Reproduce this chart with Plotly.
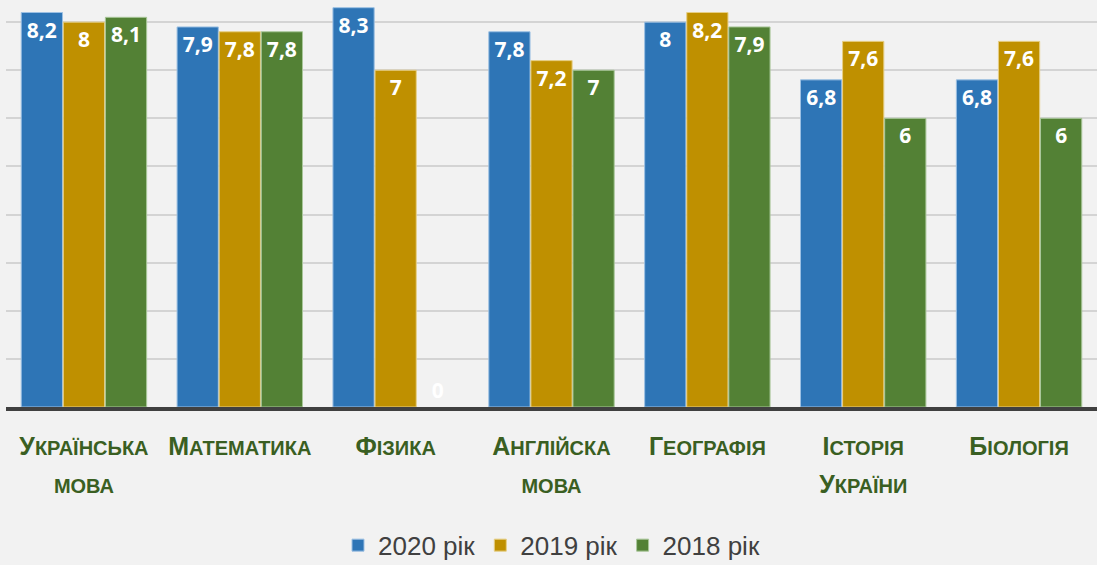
import plotly.graph_objects as go

subjects = [
    ("У", "КРАЇНСЬКА", "", "МОВА"),
    ("М", "АТЕМАТИКА", "", ""),
    ("Ф", "ІЗИКА", "", ""),
    ("А", "НГЛІЙСКА", "", "МОВА"),
    ("Г", "ЕОГРАФІЯ", "", ""),
    ("І", "СТОРІЯ", "У", "КРАЇНИ"),
    ("Б", "ІОЛОГІЯ", "", ""),
]
categories = ["Українська мова", "Математика", "Фізика", "Англійска мова",
              "Географія", "Історія України", "Біологія"]

scores_2020 = [8.2, 7.9, 8.3, 7.8, 8.0, 6.8, 6.8]
scores_2019 = [8.0, 7.8, 7.0, 7.2, 8.2, 7.6, 7.6]
scores_2018 = [8.1, 7.8, 0.0, 7.0, 7.9, 6.0, 6.0]

series = [
    ("2020 рік", scores_2020, "#2e75b6", "#9cc0e3"),
    ("2019 рік", scores_2019, "#bf9000", "#e6cf86"),
    ("2018 рік", scores_2018, "#538135", "#a9c79a"),
]

BIG = "font-size:25px"
SMALL = "font-size:20px"


def tick_label(first, rest, first2, rest2):
    txt = f"<span style='{BIG}'>{first}</span><span style='{SMALL}'>{rest}</span>"
    if rest2:
        txt += "<br>"
        if first2:
            txt += f"<span style='{BIG}'>{first2}</span>"
        txt += f"<span style='{SMALL}'>{rest2}</span>"
    return txt


fig = go.Figure()
for name, vals, color, edge in series:
    fig.add_trace(go.Bar(
        name=name,
        x=categories,
        y=vals,
        marker=dict(color=color, line=dict(color=edge, width=[1 if v > 0 else 0 for v in vals])),
        text=[f"{v:g}".replace(".", ",") for v in vals],
        textposition=["inside" if v > 0 else "outside" for v in vals],
        insidetextanchor="end",
        textangle=0,
        textfont=dict(family="Open Sans", size=21, color="white", weight="bold"),
        outsidetextfont=dict(family="Open Sans", size=21, color="white", weight="bold"),
        cliponaxis=False,
    ))

fig.update_layout(
    width=1097,
    height=565,
    barmode="group",
    bargap=0.19,
    bargroupgap=0.02,
    paper_bgcolor="#f2f2f2",
    plot_bgcolor="#f2f2f2",
    margin=dict(l=6, r=0, t=0, b=158),
    showlegend=True,
    legend=dict(
        orientation="h",
        x=0.5, xanchor="center",
        yref="container", y=0.035, yanchor="middle",
        font=dict(family="Liberation Sans", size=26, color="#404040"),
        itemwidth=30,
        traceorder="normal",
    ),
)
fig.update_xaxes(
    tickmode="array",
    tickvals=categories,
    ticktext=[tick_label(*s) for s in subjects],
    tickfont=dict(family="Liberation Sans", size=29, color="#3a5f22", weight="bold"),
    tickangle=0,
    ticklabelstandoff=9,
    showline=True,
    linecolor="#404040",
    linewidth=4,
    ticks="",
)
fig.update_yaxes(
    range=[0, 8.46],
    dtick=1,
    showticklabels=False,
    showgrid=True,
    gridcolor="#d4d4d4",
    gridwidth=2,
    zeroline=False,
)

fig.write_html("out.html", config={"displayModeBar": False},
               post_script="document.body.style.margin='0';")
